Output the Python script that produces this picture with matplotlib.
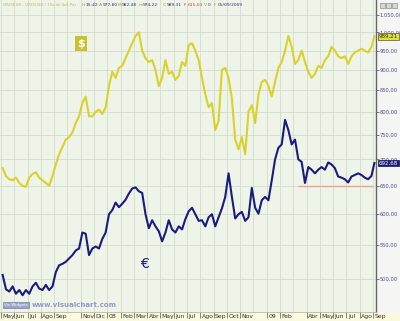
import matplotlib
matplotlib.use("Agg")
import matplotlib.pyplot as plt
import matplotlib.transforms as mtransforms
from matplotlib.patches import Rectangle
import numpy as np

# gold price, four readings per month, May 2007 .. Aug 2009 (+ last close in Sep 2009)
usd_by_month = [
    [683, 668, 662, 660], [665, 655, 650, 648], [665, 672, 675, 665], [660, 655, 650, 668],
    [690, 710, 725, 740], [745, 755, 775, 790], [820, 835, 790, 790], [800, 805, 795, 810],
    [860, 895, 880, 905], [910, 930, 950, 970], [990, 1000, 950, 930], [920, 925, 900, 860],
    [880, 925, 890, 895], [875, 885, 920, 910], [965, 970, 950, 925], [880, 840, 810, 820],
    [760, 780, 900, 905], [880, 830, 740, 720], [745, 710, 800, 815], [775, 840, 870, 875],
    [860, 835, 870, 905], [920, 950, 990, 960], [915, 925, 950, 920], [895, 880, 890, 910],
    [905, 925, 935, 960], [950, 935, 930, 935], [915, 935, 945, 950], [955, 950, 945, 960],
]
eur_by_month = [
    [506, 486, 483, 490], [480, 485, 478, 485], [480, 490, 495, 487], [485, 492, 485, 490],
    [510, 520, 522, 525], [530, 535, 542, 545], [570, 568, 535, 545], [548, 545, 560, 570],
    [600, 607, 620, 612], [618, 625, 636, 645], [647, 640, 637, 600], [577, 590, 580, 572],
    [556, 570, 590, 575], [570, 580, 575, 592], [605, 611, 600, 589], [590, 580, 595, 600],
    [580, 595, 610, 630], [673, 630, 593, 600], [604, 589, 595, 646], [611, 601, 624, 630],
    [624, 660, 700, 723], [730, 782, 760, 730], [740, 700, 695, 655], [685, 680, 673, 680],
    [685, 680, 694, 690], [683, 667, 665, 662], [656, 667, 670, 673], [670, 665, 662, 668],
]
usd_last = 989.21
eur_last = 692.68

support_level = 650
support_from, support_to = 22.35, 28.0

tick_months = [0, 1, 2, 3, 4, 6, 7, 8, 9, 10, 11, 12, 13, 14, 15, 16, 17, 18,
               20, 21, 23, 24, 25, 26, 27, 28]
tick_names = ["May", "Jun", "Jul", "Ago", "Sep", "Nov", "Dic", "08", "Feb", "Mar", "Abr",
              "May", "Jun", "Jul", "Ago", "Sep", "Oct", "Nov", "09", "Feb", "Abr", "May",
              "Jun", "Jul", "Ago", "Sep"]
price_ticks = list(range(500, 1051, 50))

t = [m + (k + 0.5) / 4 for m in range(len(usd_by_month)) for k in range(4)]
t.append(28.1)
usd = [v for month in usd_by_month for v in month] + [usd_last]
eur = [v for month in eur_by_month for v in month] + [eur_last]

bg = "#eff4e9"
grid_c = "#d3ddcc"
yellow = "#d9d22a"
navy = "#1b1b7d"

fig = plt.figure(figsize=(4, 3.21), dpi=100, facecolor="#fbfadc")
fig.patches.append(Rectangle((376 / 400, 9 / 321), 24 / 400, 312 / 321,
                             transform=fig.transFigure, color="#f5f5f3", zorder=-5))
ax = fig.add_axes([0, 9 / 321, 376 / 400, 312 / 321], facecolor=bg)

ax.set_yscale("log")
ax.set_ylim(456, 1095)
ax.set_xlim(-0.075, 28.22)

for m in range(29):
    ax.axvline(m, color=grid_c, lw=0.6, zorder=0)
for p in price_ticks:
    ax.axhline(p, color=grid_c, lw=0.6, zorder=0)

ax.plot(t, usd, color=yellow, lw=1.5, zorder=3)
ax.plot(t, eur, color=navy, lw=1.5, zorder=3)
ax.hlines(support_level, support_from, support_to, color="#e8a596", lw=1.0, zorder=2)

ax.yaxis.tick_right()
ax.yaxis.set_minor_locator(matplotlib.ticker.NullLocator())
ax.set_yticks(price_ticks)
ax.set_yticklabels([f"{p:,.2f}".replace(",", "X").replace(".", ",").replace("X", ".")
                    for p in price_ticks])
ax.tick_params(axis="y", length=2, width=0.6, color="#5a5a9a", labelsize=3.7,
               labelcolor="#4c4c96", pad=0.6)

ax.set_xticks(tick_months)
ax.set_xticklabels(tick_names)
ax.tick_params(axis="x", length=4, width=0.5, color="#555555", labelsize=4.4,
               labelcolor="#333333", pad=-2.8)
shift = mtransforms.ScaledTranslation(1.0 / 72, 0, fig.dpi_scale_trans)
for lab in ax.get_xticklabels():
    lab.set_horizontalalignment("left")
    lab.set_transform(lab.get_transform() + shift)

for s in ["left", "top"]:
    ax.spines[s].set_visible(False)
ax.spines["right"].set_color("#666666")
ax.spines["right"].set_linewidth(1.0)
ax.spines["bottom"].set_color("#b8b8a8")
ax.spines["bottom"].set_linewidth(0.6)

# series markers
ax.text(0.215, 0.86, "$", transform=ax.transAxes, ha="center", va="center",
        fontsize=8, fontweight="bold", color="white",
        bbox=dict(boxstyle="square,pad=0.2", fc="#c9c22a", ec="none"))
ax.text(0.385, 0.155, "€", transform=ax.transAxes, ha="center", va="center",
        fontsize=10, color=navy)

# last value boxes on the price axis
ax.annotate(f"{usd_last:.2f}".replace(".", ","), xy=(1.0, usd_last),
            xycoords=("axes fraction", "data"), xytext=(2.0, 0), textcoords="offset points",
            ha="left", va="center", fontsize=4.0, color="#333300",
            bbox=dict(boxstyle="square,pad=0.15", fc="#dede4a", ec="#555533", lw=0.5),
            annotation_clip=False)
ax.annotate(f"{eur_last:.2f}".replace(".", ","), xy=(1.0, eur_last),
            xycoords=("axes fraction", "data"), xytext=(2.0, 0), textcoords="offset points",
            ha="left", va="center", fontsize=4.0, color="white",
            bbox=dict(boxstyle="square,pad=0.15", fc=navy, ec="#111144", lw=0.5),
            annotation_clip=False)

# header line
hdr = [(3, "ORO/EUR - ORO/USD / 15s de 4x5 Par", "#b8b850"),
       (82, "H", "#9a9a40"), (86, "15:42", "#303080"),
       (99, "A", "#9a9a40"), (103, "977,80", "#303080"),
       (118, "M", "#9a9a40"), (122, "982,48", "#303080"),
       (139, "m", "#9a9a40"), (143, "974,22", "#303080"),
       (163, "C", "#9a9a40"), (167, "989,31", "#303080"),
       (184, "F", "#d04040"), (188, "615,03", "#d04040"),
       (204, "V", "#9a9a40"), (208, "0", "#303080"),
       (214, "F", "#9a9a40"), (218, "05/09/2009", "#303080")]
for x, s, c in hdr:
    fs = 2.8 if x == 3 else 3.2
    fig.text(x / 400, 1 - 5 / 321, s, fontsize=fs, color=c, va="center", ha="left")

for i in range(3):
    fig.patches.append(Rectangle(((380 + 6 * i) / 400, 1 - 8 / 321), 5 / 400, 5 / 321,
                                 transform=fig.transFigure, fc="#d8d8d8", ec="#777777",
                                 lw=0.4))

# watermark
fig.text(4 / 400, 1 - 305 / 321, "Vis Widgets", fontsize=3.0, color="#ffffff", va="center",
         bbox=dict(boxstyle="square,pad=0.2", fc="#9aa4c8", ec="#606a96", lw=0.4))
fig.text(32 / 400, 1 - 305 / 321, "www.visualchart.com", fontsize=5, color="#8f9ac8",
         va="center", fontweight="bold")

fig.savefig("out.png", dpi=100, facecolor=fig.get_facecolor())
